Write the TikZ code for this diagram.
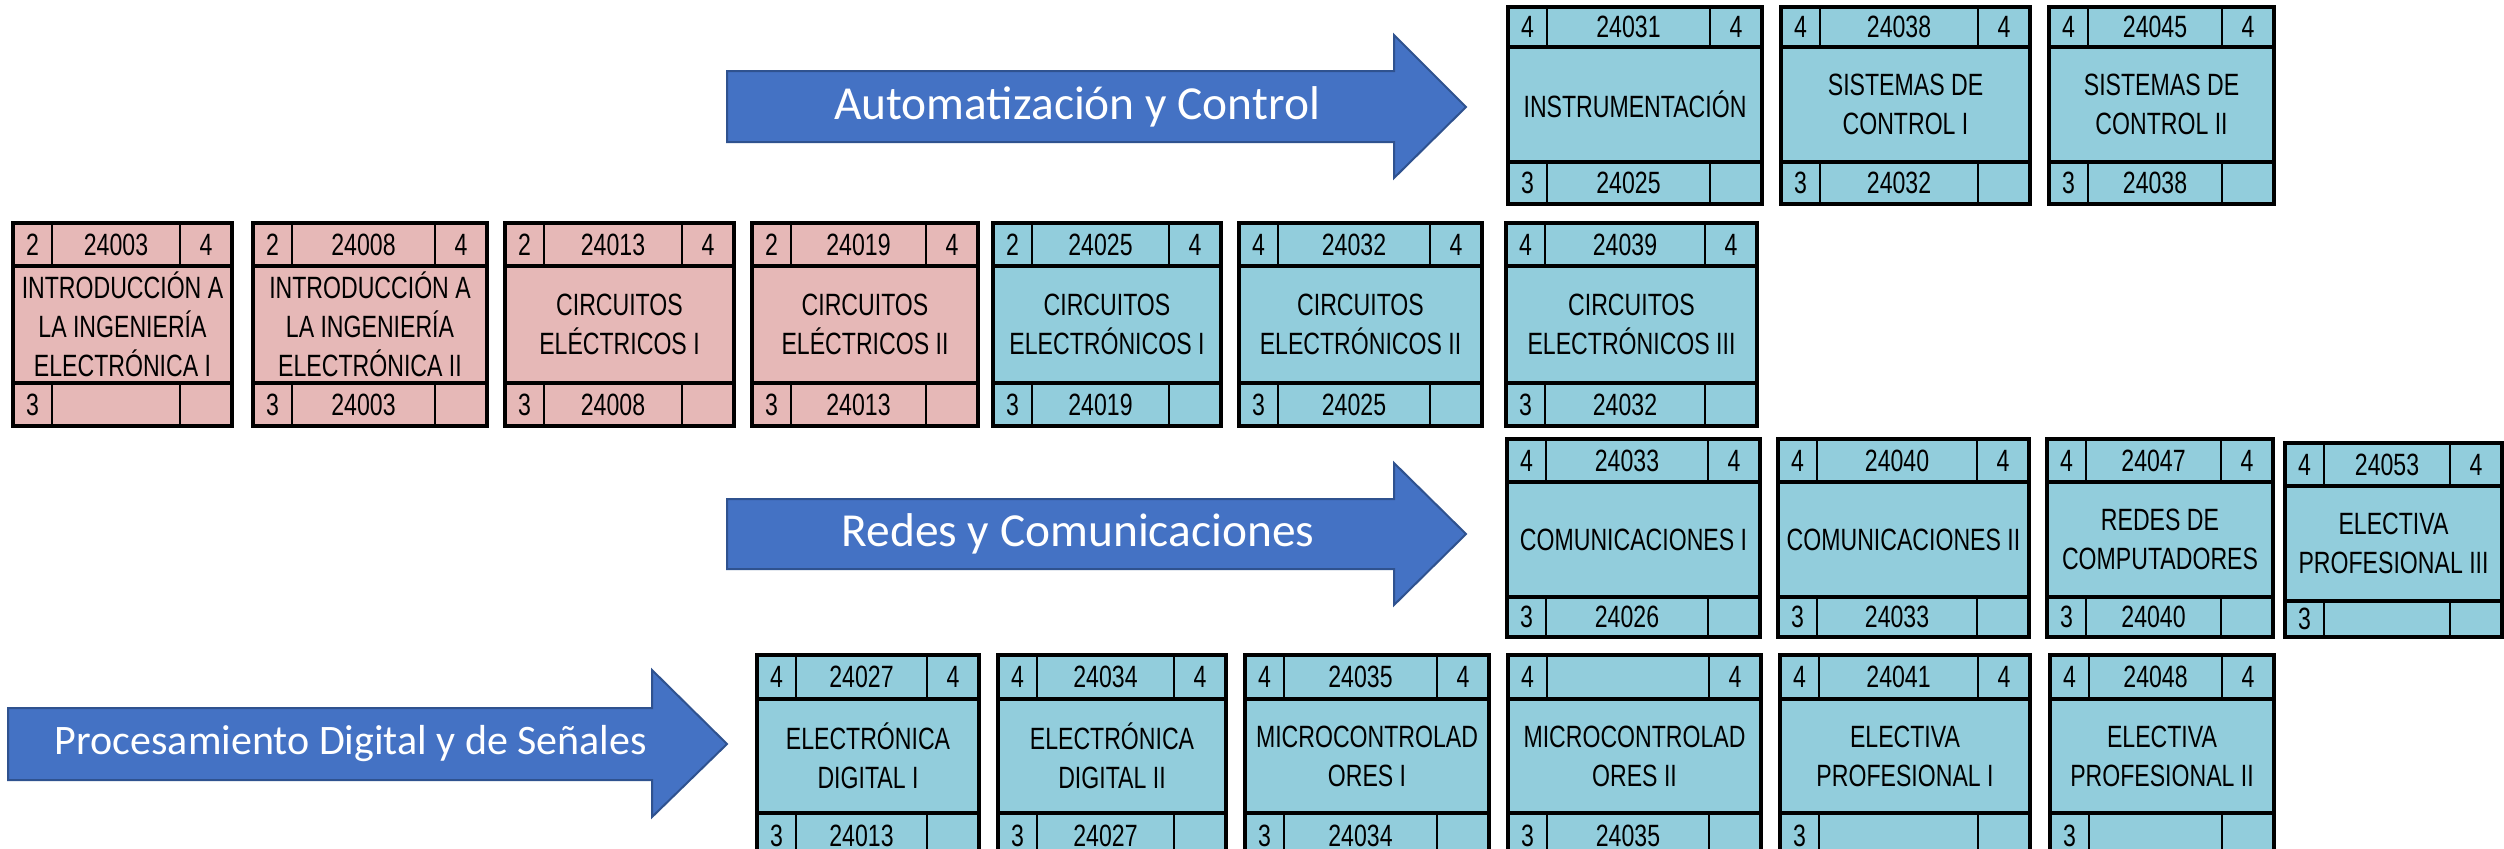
\documentclass[tikz,border=0pt]{standalone}
\usepackage{fontspec}
\setmainfont{Liberation Sans}
\newfontfamily\boxfont[FakeStretch=0.75]{Liberation Sans}
\newfontfamily\arrowfont{Carlito}
\definecolor{pinkc}{HTML}{E6B8B7}
\definecolor{bluec}{HTML}{92CDDC}
\definecolor{arrowfill}{HTML}{4472C4}
\definecolor{arrowline}{HTML}{2F528F}
\tikzset{
  courseouter/.style={line width=2pt, draw=black},
  coursedivh/.style={line width=1.75pt, draw=black},
  coursedivv/.style={line width=1.25pt, draw=black},
  coursecell/.style={inner sep=0pt, font=\boxfont\fontsize{15.4}{19.5}\selectfont},
  coursebody/.style={coursecell, align=center},
  bigarrow/.style={fill=arrowfill, draw=arrowline, line width=1pt, line join=miter},
  arrowtext/.style={text=white, inner sep=0pt, font=\arrowfont\fontsize{23.7}{28}\selectfont},
}
% #1 name, #2 x left, #3 x right, #4 colour, #5 top-left, #6 top-centre, #7 bottom-centre, #8 body
\newcommand\course[8]{%
  \path[fill=#4] (#2,\yT) rectangle (#3,\yB);
  \draw[coursedivv] ({#2+39},\yT) -- ({#2+39},\yH) ({#3-52},\yT) -- ({#3-52},\yH)
                    ({#2+39},\yF) -- ({#2+39},\yB) ({#3-52},\yF) -- ({#3-52},\yB);
  \draw[coursedivh] (#2,\yH) -- (#3,\yH) (#2,\yF) -- (#3,\yF);
  \draw[courseouter] (#2,\yT) rectangle (#3,\yB);
  \node[coursecell] (#1tl) at ({#2+19.5},{(\yT+\yH)/2}) {#5};
  \node[coursecell] (#1tc) at ({(#2+39+#3-52)/2},{(\yT+\yH)/2}) {#6};
  \node[coursecell] (#1tr) at ({#3-26},{(\yT+\yH)/2}) {4};
  \node[coursecell] (#1bl) at ({#2+19.5},{(\yF+\yB)/2}) {3};
  \node[coursecell] (#1bc) at ({(#2+39+#3-52)/2},{(\yF+\yB)/2}) {#7};
  \node[coursebody] (#1) at ({(#2+#3)/2},{(\yH+\yF)/2}) {#8};
}
\newcommand\setrow[4]{\def\yT{#1}\def\yH{#2}\def\yF{#3}\def\yB{#4}}
\begin{document}
\begin{tikzpicture}[x=0.5pt,y=-0.5pt]
\useasboundingbox (0,0) rectangle (2504,848);
\fill[white] (0,0) rectangle (2504,848);

% arrows
\draw[bigarrow] (727,71) -- (1394,71) -- (1394,35) -- (1466,107) -- (1394,178) -- (1394,142) -- (727,142) -- cycle;
\node[arrowtext] (autotxt) at (1077,107) {Automatización y Control};
\draw[bigarrow] (727,499) -- (1394,499) -- (1394,463) -- (1466,534) -- (1394,605) -- (1394,569) -- (727,569) -- cycle;
\node[arrowtext] (redestxt) at (1078,534) {Redes y Comunicaciones};
\draw[bigarrow] (8,708) -- (652,708) -- (652,670) -- (727,744) -- (652,817) -- (652,780) -- (8,780) -- cycle;
\node[arrowtext, font=\arrowfont\fontsize{21}{25}\selectfont] (proctxt) at (351,744) {Procesamiento Digital y de Señales};

% top row
\setrow{7}{47}{162}{204}
\course{a1}{1508}{1762}{bluec}{4}{24031}{24025}{INSTRUMENTACIÓN}
\course{a2}{1781}{2030}{bluec}{4}{24038}{24032}{SISTEMAS DE\\CONTROL I}
\course{a3}{2049}{2274}{bluec}{4}{24045}{24038}{SISTEMAS DE\\CONTROL II}

% middle row
\setrow{223}{266}{383}{426}
\course{m1}{13}{232}{pinkc}{2}{24003}{}{INTRODUCCIÓN A\\LA INGENIERÍA\\ELECTRÓNICA I}
\course{m2}{253}{487}{pinkc}{2}{24008}{24003}{INTRODUCCIÓN A\\LA INGENIERÍA\\ELECTRÓNICA II}
\course{m3}{505}{734}{pinkc}{2}{24013}{24008}{CIRCUITOS\\ELÉCTRICOS I}
\course{m4}{752}{978}{pinkc}{2}{24019}{24013}{CIRCUITOS\\ELÉCTRICOS II}
\course{m5}{993}{1221}{bluec}{2}{24025}{24019}{CIRCUITOS\\ELECTRÓNICOS I}
\course{m6}{1239}{1482}{bluec}{4}{24032}{24025}{CIRCUITOS\\ELECTRÓNICOS II}
\course{m7}{1506}{1757}{bluec}{4}{24039}{24032}{CIRCUITOS\\ELECTRÓNICOS III}

% redes row
\setrow{439}{482}{597}{637}
\course{r1}{1507}{1760}{bluec}{4}{24033}{24026}{COMUNICACIONES I}
\course{r2}{1778}{2029}{bluec}{4}{24040}{24033}{COMUNICACIONES II}
\course{r3}{2047}{2273}{bluec}{4}{24047}{24040}{REDES DE\\COMPUTADORES}
\setrow{443}{486}{601}{637}
\course{r4}{2285}{2502}{bluec}{4}{24053}{}{ELECTIVA\\PROFESIONAL III}

% bottom row
\setrow{655}{699}{813}{858}
\course{b1}{757}{979}{bluec}{4}{24027}{24013}{ELECTRÓNICA\\DIGITAL I}
\course{b2}{998}{1226}{bluec}{4}{24034}{24027}{ELECTRÓNICA\\DIGITAL II}
\course{b3}{1245}{1489}{bluec}{4}{24035}{24034}{MICROCONTROLAD\\ORES I}
\course{b4}{1508}{1761}{bluec}{4}{}{24035}{MICROCONTROLAD\\ORES II}
\course{b5}{1780}{2030}{bluec}{4}{24041}{}{ELECTIVA\\PROFESIONAL I}
\course{b6}{2050}{2274}{bluec}{4}{24048}{}{ELECTIVA\\PROFESIONAL II}
\end{tikzpicture}
\end{document}
